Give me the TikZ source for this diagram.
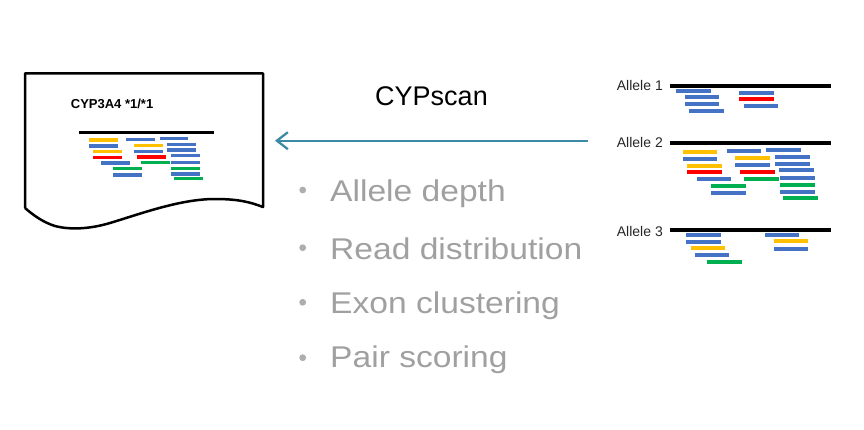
\documentclass[tikz,border=0pt]{standalone}
\usepackage{fontspec}
\setmainfont{Liberation Sans}
\newfontfamily\bulfont[FakeStretch=1.12]{Liberation Sans}
\usetikzlibrary{arrows.meta}
\definecolor{rblue}{HTML}{4472C4}
\definecolor{ryellow}{HTML}{FFC000}
\definecolor{rred}{HTML}{FF0000}
\definecolor{rgreen}{HTML}{00B050}
\definecolor{rteal}{HTML}{3C8AA6}
\definecolor{rgray}{HTML}{A0A0A0}
\newcommand\rdA[4]{\draw[line width=3.9pt,#1] (#2,#4) -- (#3,#4);}
\newcommand\rdD[4]{\draw[line width=3.3pt,#1] (#2,#4) -- (#3,#4);}
\tikzset{
  refline/.style={line width=3.4pt,black},
  doctext/.style={font=\bfseries\fontsize{13}{15}\selectfont,anchor=base west,inner sep=0},
  allelelabel/.style={font=\fontsize{14}{16}\selectfont,anchor=base west,inner sep=0,text=black!85},
  bullettext/.style={font=\bulfont\fontsize{30}{34}\selectfont,anchor=base west,inner sep=0,text=rgray},
  bulletdot/.style={fill=rgray!85,draw=none},
}
\begin{document}
\begin{tikzpicture}[x=1pt,y=-1pt]
\useasboundingbox (0,0) rectangle (864,429);
% document shape
\draw[line width=2.5pt,line join=round] (25,208) -- (25,73.3) -- (263,73.3) -- (263,207)
  .. controls (250,202) and (238,199) .. (215,199)
  .. controls (180,199) and (140,214) .. (110,223)
  .. controls (90,229) and (70,230) .. (55,226)
  .. controls (42,222) and (32,214) .. (25,208);
\node[doctext] (doclabel) at (70.7,108.3) {CYP3A4 *1/*1};
\draw[line width=2.9pt] (79,132.3) -- (214,132.3);
% doc reads
\rdD{ryellow}{89.3}{118.3}{140}
\rdD{rblue}{89.3}{118.3}{146}
\rdD{ryellow}{93.3}{122.3}{151.7}
\rdD{rred}{93.3}{122.3}{157.3}
\rdD{rblue}{101}{130}{163}
\rdD{rgreen}{113}{142}{168.7}
\rdD{rblue}{113}{142}{175}
\rdD{rblue}{126}{155}{139.7}
\rdD{ryellow}{133.7}{162.7}{145.3}
\rdD{rblue}{133.7}{162.7}{151.3}
\rdD{rred}{137.3}{166}{157}
\rdD{rgreen}{140.7}{169.7}{162.7}
\rdD{rblue}{159.7}{188.3}{138.7}
\rdD{rblue}{167}{195.7}{144.3}
\rdD{rblue}{167}{195.7}{150}
\rdD{rblue}{170.7}{200}{155.7}
\rdD{rblue}{171}{200.3}{162.3}
\rdD{rgreen}{171}{200.3}{168.3}
\rdD{rblue}{171}{200.3}{174}
\rdD{rgreen}{174}{203.3}{178.7}
% CYPscan arrow
\node[font=\fontsize{27}{30}\selectfont,anchor=base,inner sep=0] (title) at (431.5,105) {CYPscan};
\coordinate (arrowStart) at (588,140.7);
\coordinate (arrowEnd) at (275,140.7);
\draw[rteal,line width=2.3pt,-{Straight Barb[length=11pt,width=17pt,line width=2.3pt]}] (arrowStart) -- (arrowEnd);
% bullets
\fill[bulletdot] (302.7,190) circle (3.4);
\fill[bulletdot] (302.7,247.7) circle (3.4);
\fill[bulletdot] (302.7,302.3) circle (3.4);
\fill[bulletdot] (302.7,357.7) circle (3.4);
\node[bullettext] (b1) at (330,201.7) {Allele depth};
\node[bullettext] (b2) at (330,259) {Read distribution};
\node[bullettext] (b3) at (330,313.3) {Exon clustering};
\node[bullettext] (b4) at (330,367.7) {Pair scoring};
% alleles
\node[allelelabel] (a1) at (616.7,90.7) {Allele 1};
\node[allelelabel] (a2) at (616.7,147.3) {Allele 2};
\node[allelelabel] (a3) at (616.7,236) {Allele 3};
\draw[refline] (670,86) -- (831,86);
\draw[refline] (670,143) -- (831,143);
\draw[refline] (670,230) -- (831,230);
% allele 1 reads
\rdA{rblue}{676}{710.7}{90.7}
\rdA{rblue}{685}{719.3}{97.3}
\rdA{rblue}{685}{719.3}{104}
\rdA{rblue}{689.3}{724}{111}
\rdA{rblue}{739.3}{773.7}{92.7}
\rdA{rred}{739.3}{773.7}{99.3}
\rdA{rblue}{744}{778.3}{105.7}
% allele 2 reads
\rdA{ryellow}{682.7}{717.3}{152}
\rdA{rblue}{682.7}{717.3}{159}
\rdA{ryellow}{687.3}{721.7}{166}
\rdA{rred}{687.3}{721.7}{172.3}
\rdA{rblue}{696.7}{731}{179}
\rdA{rgreen}{711}{745.7}{186}
\rdA{rblue}{711}{745.7}{193.3}
\rdA{rblue}{726.7}{761.3}{151.3}
\rdA{ryellow}{735.3}{770}{158.3}
\rdA{rblue}{735.3}{770}{165}
\rdA{rred}{740}{774.7}{171.7}
\rdA{rgreen}{744}{778.7}{178.7}
\rdA{rblue}{766}{801}{150}
\rdA{rblue}{775}{809.7}{156.7}
\rdA{rblue}{775}{809.7}{163.7}
\rdA{rblue}{779.3}{814}{170}
\rdA{rblue}{780.3}{815}{178}
\rdA{rgreen}{780.3}{815}{185.3}
\rdA{rblue}{780.3}{815}{192}
\rdA{rgreen}{783.3}{818.3}{198}
% allele 3 reads
\rdA{rblue}{686}{720.7}{234.7}
\rdA{rblue}{686}{720.7}{241.7}
\rdA{ryellow}{690.7}{725}{248.3}
\rdA{rblue}{695}{729.3}{254.7}
\rdA{rgreen}{707.3}{742}{261.7}
\rdA{rblue}{765}{799.3}{234.7}
\rdA{ryellow}{774}{808.3}{241.3}
\rdA{rblue}{774}{808.3}{249}
\end{tikzpicture}
\end{document}
